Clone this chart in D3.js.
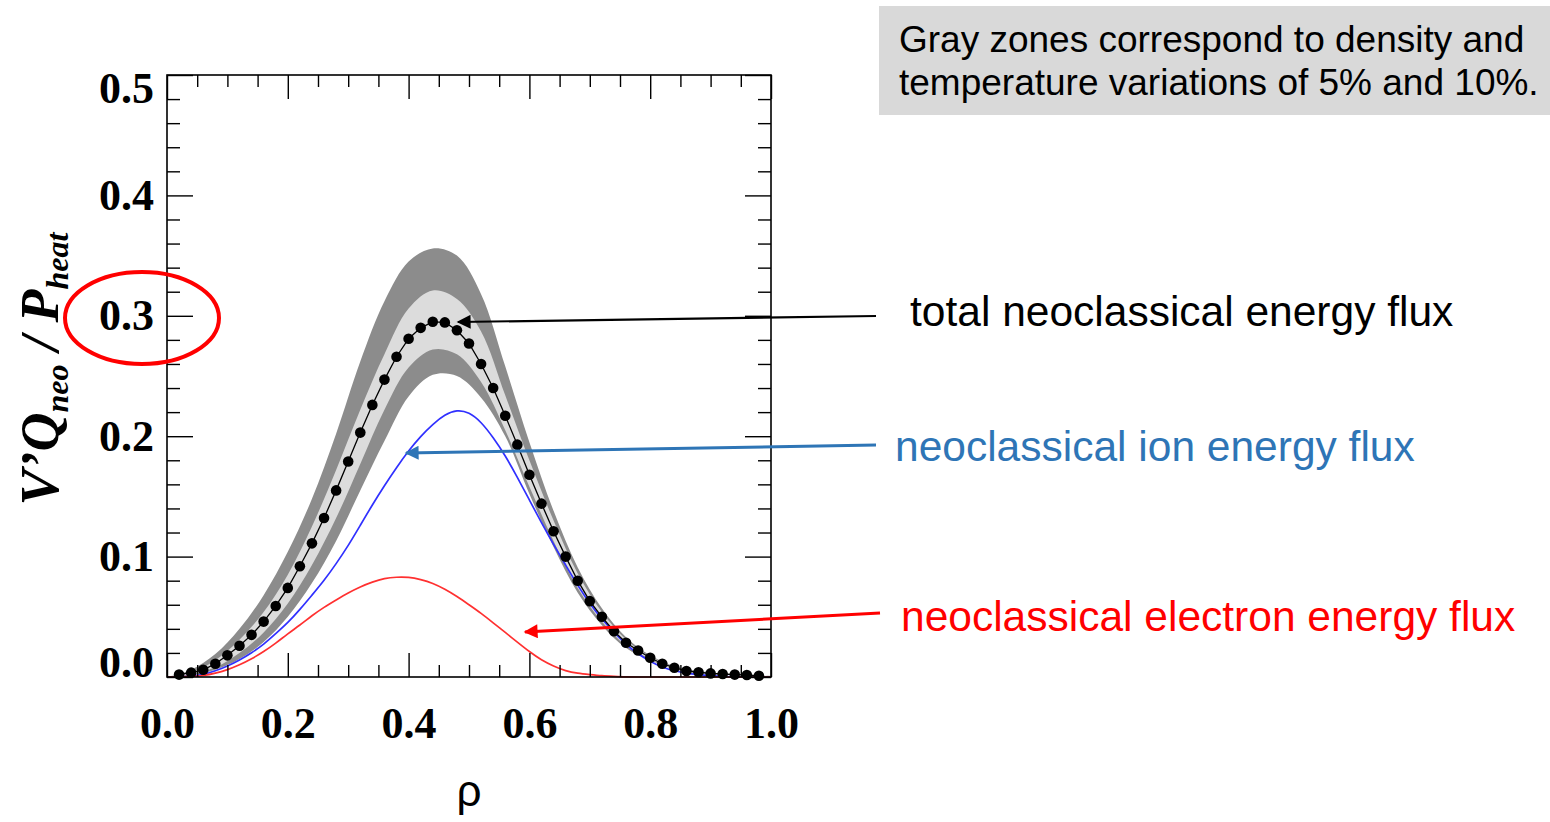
<!DOCTYPE html>
<html>
<head>
<meta charset="utf-8">
<script src="https://cdn.jsdelivr.net/npm/d3@7"></script>
<style>
  body { margin: 0; background: #fff; }
</style>
</head>
<body>
<script>
// radial grid for the ion / electron curves
const rho = [0.00, 0.02, 0.04, 0.06, 0.08, 0.10, 0.12, 0.14, 0.16, 0.18,
             0.20, 0.22, 0.24, 0.26, 0.28, 0.30, 0.32, 0.34, 0.36, 0.38,
             0.40, 0.42, 0.44, 0.46, 0.48, 0.50, 0.52, 0.54, 0.56, 0.58,
             0.60, 0.62, 0.64, 0.66, 0.68, 0.70, 0.72, 0.74, 0.76, 0.78,
             0.80, 0.82, 0.84, 0.86, 0.88, 0.90, 0.92, 0.94, 0.96, 0.98, 1.00];
const ionFlux = [0, 0, 0.0005, 0.002, 0.005, 0.009, 0.014, 0.020, 0.027, 0.036,
                 0.045, 0.056, 0.068, 0.080, 0.094, 0.109, 0.126, 0.143, 0.159, 0.174,
                 0.188, 0.200, 0.210, 0.218, 0.222, 0.220, 0.212, 0.199, 0.184, 0.166,
                 0.147, 0.128, 0.110, 0.093, 0.076, 0.061, 0.048, 0.037, 0.027, 0.019,
                 0.013, 0.008, 0.005, 0.003, 0.002, 0.001, 0.0005, 0, 0, 0, 0];
const electronFlux = [0, 0, 0.0005, 0.001, 0.003, 0.006, 0.010, 0.015, 0.021, 0.028,
                      0.036, 0.043, 0.051, 0.058, 0.064, 0.070, 0.075, 0.079, 0.082, 0.083,
                      0.083, 0.081, 0.078, 0.073, 0.067, 0.060, 0.053, 0.045, 0.037, 0.029,
                      0.021, 0.014, 0.009, 0.005, 0.003, 0.002, 0.001, 0.0005, 0, 0,
                      0, 0, 0, 0, 0, 0, 0, 0, 0, 0, 0];

// total flux, one dot per point
const rhoDots = [0.02, 0.04, 0.06, 0.08, 0.10, 0.12, 0.14, 0.16, 0.18, 0.20,
                 0.22, 0.24, 0.26, 0.28, 0.30, 0.32, 0.34, 0.36, 0.38, 0.40,
                 0.42, 0.44, 0.46, 0.48, 0.50, 0.52, 0.54, 0.56, 0.58, 0.60,
                 0.62, 0.64, 0.66, 0.68, 0.70, 0.72, 0.74, 0.76, 0.78, 0.80,
                 0.82, 0.84, 0.86, 0.88, 0.90, 0.92, 0.94, 0.96, 0.98];
const totalFlux = [0.002, 0.0036, 0.006, 0.011, 0.018, 0.026, 0.035, 0.046, 0.059, 0.074,
                   0.092, 0.111, 0.132, 0.155, 0.179, 0.203, 0.226, 0.247, 0.266, 0.281,
                   0.290, 0.295, 0.2945, 0.288, 0.277, 0.260, 0.240, 0.217, 0.193, 0.168,
                   0.144, 0.121, 0.100, 0.080, 0.063, 0.050, 0.038, 0.0285, 0.022, 0.016,
                   0.011, 0.0077, 0.005, 0.004, 0.003, 0.0025, 0.002, 0.0017, 0.001];

// gray zones (10% outer, 5% inner)
const rhoBand = [0.00, 0.04, 0.08, 0.12, 0.16, 0.20, 0.24, 0.28, 0.32, 0.36,
                 0.40, 0.44, 0.48, 0.52, 0.56, 0.60, 0.64, 0.68, 0.72, 0.76,
                 0.80, 0.84, 0.88, 0.92, 0.96, 1.00];
const band10Upper = [0, 0.006, 0.019, 0.040, 0.068, 0.104, 0.148, 0.202, 0.262, 0.312,
                     0.345, 0.356, 0.350, 0.318, 0.258, 0.195, 0.138, 0.091, 0.057, 0.033,
                     0.018, 0.009, 0.005, 0.003, 0.002, 0.001];
const band10Lower = [0, 0.0015, 0.006, 0.015, 0.029, 0.050, 0.078, 0.113, 0.155, 0.196,
                     0.233, 0.251, 0.250, 0.232, 0.200, 0.152, 0.108, 0.070, 0.043, 0.024,
                     0.014, 0.0065, 0.003, 0.002, 0.0015, 0.001];
const band5Upper = [0, 0.004, 0.014, 0.031, 0.054, 0.085, 0.125, 0.172, 0.222, 0.268,
                    0.306, 0.321, 0.314, 0.287, 0.234, 0.180, 0.130, 0.086, 0.054, 0.031,
                    0.017, 0.0085, 0.0045, 0.0028, 0.0018, 0.001];
const band5Lower = [0, 0.002, 0.008, 0.020, 0.037, 0.061, 0.093, 0.132, 0.177, 0.222,
                    0.257, 0.272, 0.268, 0.245, 0.205, 0.158, 0.113, 0.074, 0.046, 0.026,
                    0.015, 0.007, 0.0035, 0.0022, 0.0016, 0.001];

// ticks
const xMajor = [0, 0.2, 0.4, 0.6, 0.8, 1.0];
const xMinor = [0.05, 0.1, 0.15, 0.25, 0.3, 0.35, 0.45, 0.5, 0.55,
                0.65, 0.7, 0.75, 0.85, 0.9, 0.95];
const yMajor = [0, 0.1, 0.2, 0.3, 0.4, 0.5];
const yMinor = [0.02, 0.04, 0.06, 0.08, 0.12, 0.14, 0.16, 0.18, 0.22, 0.24, 0.26, 0.28,
                0.32, 0.34, 0.36, 0.38, 0.42, 0.44, 0.46, 0.48];

const svg = d3.select("body").append("svg")
    .attr("width", 1550)
    .attr("height", 822);

const x = d3.scaleLinear().domain([0, 1]).range([167, 771]);
const y = d3.scaleLinear().domain([0, 0.5]).range([677, 75]);

const smooth = d3.curveCatmullRom.alpha(0.5);

// gray zones
const area10 = d3.area()
    .x((d, i) => x(rhoBand[i]))
    .y0((d, i) => y(band10Lower[i]))
    .y1((d, i) => y(band10Upper[i]))
    .curve(smooth);
const area5 = d3.area()
    .x((d, i) => x(rhoBand[i]))
    .y0((d, i) => y(band5Lower[i]))
    .y1((d, i) => y(band5Upper[i]))
    .curve(smooth);

svg.append("path").datum(rhoBand).attr("d", area10).attr("fill", "#8c8c8c");
svg.append("path").datum(rhoBand).attr("d", area5).attr("fill", "#dcdcdc");

// ion and electron curves
const fluxLine = vals => d3.line()
    .x((d, i) => x(rho[i]))
    .y((d, i) => y(vals[i]))
    .curve(d3.curveBasis);

svg.append("path").datum(rho)
    .attr("d", fluxLine(ionFlux))
    .attr("fill", "none")
    .attr("stroke", "#3030ff")
    .attr("stroke-width", 1.7);

svg.append("path").datum(rho)
    .attr("d", fluxLine(electronFlux))
    .attr("fill", "none")
    .attr("stroke", "#ff3030")
    .attr("stroke-width", 1.7);

// total flux
svg.append("path").datum(rhoDots)
    .attr("d", d3.line().x((d, i) => x(rhoDots[i])).y((d, i) => y(totalFlux[i])))
    .attr("fill", "none")
    .attr("stroke", "black")
    .attr("stroke-width", 1.3);

svg.selectAll("circle.dot")
    .data(rhoDots)
    .enter()
    .append("circle")
    .attr("class", "dot")
    .attr("cx", (d, i) => x(rhoDots[i]))
    .attr("cy", (d, i) => y(totalFlux[i]))
    .attr("r", 5.3)
    .attr("fill", "black");

// axes
function ticks(axis, transform, labels) {
    const g = svg.append("g").attr("transform", transform).call(axis);
    g.select(".domain").remove();
    g.selectAll("line").attr("stroke", "black").attr("stroke-width", 1.4);
    g.selectAll("text")
        .attr("fill", "black")
        .style("font-family", "'Liberation Serif', 'Times New Roman', serif")
        .style("font-weight", "bold")
        .style("font-size", "44px");
    if (!labels) g.selectAll("text").remove();
    return g;
}

ticks(d3.axisBottom(x).tickValues(xMajor).tickSize(-24).tickPadding(30).tickFormat(d3.format(".1f")),
      "translate(0,677)", true);
ticks(d3.axisBottom(x).tickValues(xMinor).tickSize(-12), "translate(0,677)", false);
ticks(d3.axisTop(x).tickValues(xMajor).tickSize(-24), "translate(0,75)", false);
ticks(d3.axisTop(x).tickValues(xMinor).tickSize(-12), "translate(0,75)", false);

const yLeft = ticks(d3.axisLeft(y).tickValues(yMajor).tickSize(-26).tickPadding(13).tickFormat(d3.format(".1f")),
      "translate(167,0)", true);
yLeft.selectAll("text").attr("y", d => d === 0.5 ? 13 : (d === 0 ? -15 : 0));
ticks(d3.axisLeft(y).tickValues(yMinor).tickSize(-13), "translate(167,0)", false);
ticks(d3.axisRight(y).tickValues(yMajor).tickSize(-26), "translate(771,0)", false);
ticks(d3.axisRight(y).tickValues(yMinor).tickSize(-13), "translate(771,0)", false);

svg.append("rect")
    .attr("x", 167)
    .attr("y", 75)
    .attr("width", 604)
    .attr("height", 602)
    .attr("fill", "none")
    .attr("stroke", "black")
    .attr("stroke-width", 1.6);

// axis titles
const yTitle = svg.append("text")
    .attr("transform", "translate(58,369) rotate(-90)")
    .attr("text-anchor", "middle")
    .style("font-family", "'Liberation Serif', 'Times New Roman', serif")
    .style("font-weight", "bold")
    .style("font-style", "italic")
    .style("font-size", "54px");
yTitle.append("tspan").text("V\u2019Q");
yTitle.append("tspan").attr("dy", 10).style("font-size", "32px").text("neo");
yTitle.append("tspan").attr("dy", -10).text(" / P");
yTitle.append("tspan").attr("dy", 10).style("font-size", "32px").text("heat");

svg.append("text")
    .attr("x", 469)
    .attr("y", 806)
    .attr("text-anchor", "middle")
    .style("font-family", "'Liberation Sans', Arial, sans-serif")
    .style("font-size", "44px")
    .text("\u03c1");

// red ellipse round 0.3
svg.append("ellipse")
    .attr("cx", 142)
    .attr("cy", 318)
    .attr("rx", 77)
    .attr("ry", 46)
    .attr("fill", "none")
    .attr("stroke", "#ff0000")
    .attr("stroke-width", 4);

// note box
svg.append("rect")
    .attr("x", 879)
    .attr("y", 6)
    .attr("width", 671)
    .attr("height", 109)
    .attr("fill", "#d9d9d9");

const note = svg.append("text")
    .style("font-family", "'Liberation Sans', Arial, sans-serif")
    .style("font-size", "37px")
    .attr("fill", "black");
note.append("tspan").attr("x", 899).attr("y", 52).text("Gray zones correspond to density and");
note.append("tspan").attr("x", 899).attr("y", 95).text("temperature variations of 5% and 10%.");

// labels with arrows
const defs = svg.append("defs");
function arrow(id, color, x1, y1, x2, y2, w) {
    defs.append("marker")
        .attr("id", id)
        .attr("viewBox", "0 0 10 10")
        .attr("refX", 9)
        .attr("refY", 5)
        .attr("markerUnits", "userSpaceOnUse")
        .attr("markerWidth", 17)
        .attr("markerHeight", 14)
        .attr("orient", "auto")
        .append("path")
        .attr("d", "M0,0L10,5L0,10z")
        .attr("fill", color);
    svg.append("line")
        .attr("x1", x1).attr("y1", y1)
        .attr("x2", x2).attr("y2", y2)
        .attr("stroke", color)
        .attr("stroke-width", w)
        .attr("marker-end", "url(#" + id + ")");
}

arrow("ah-black", "black", 876, 316, 458, 322, 2.2);
arrow("ah-blue", "#2e75b6", 876, 445, 406, 453, 3);
arrow("ah-red", "#ff0000", 880, 613, 525, 632, 3);

function label(txt, color, x0, y0) {
    svg.append("text")
        .attr("x", x0)
        .attr("y", y0)
        .attr("fill", color)
        .style("font-family", "'Liberation Sans', Arial, sans-serif")
        .style("font-size", "42.5px")
        .text(txt);
}
label("total neoclassical energy flux", "black", 910, 326);
label("neoclassical ion energy flux", "#2e75b6", 895, 461);
label("neoclassical electron energy flux", "#ff0000", 901, 631);
</script>
</body>
</html>
